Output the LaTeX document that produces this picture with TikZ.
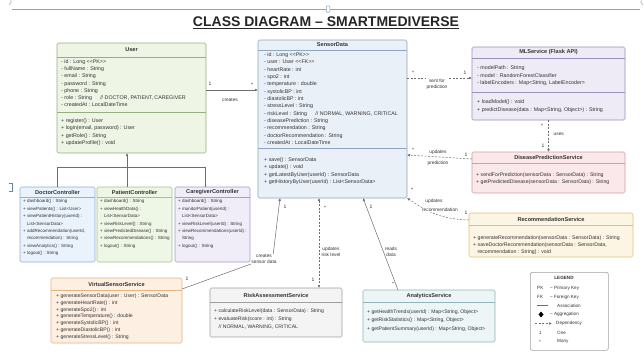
\documentclass[tikz,border=0pt]{standalone}
\usepackage{fontspec}
\setmainfont{Liberation Sans}
\usetikzlibrary{arrows.meta,calc}
\definecolor{txt}{HTML}{333333}
\definecolor{lnc}{HTML}{6E6E6E}
\definecolor{ufill}{HTML}{EEF5E5}\definecolor{udraw}{HTML}{93B07E}
\definecolor{sfill}{HTML}{EAF0F7}\definecolor{sdraw}{HTML}{8FA6C0}
\definecolor{mfill}{HTML}{EEEBF6}\definecolor{mdraw}{HTML}{9A92B8}
\definecolor{pfill}{HTML}{FBE8EA}\definecolor{pdraw}{HTML}{D99AA2}
\definecolor{rfill}{HTML}{FDF5E3}\definecolor{rdraw}{HTML}{E2C07C}
\definecolor{dfill}{HTML}{EAF2FC}\definecolor{ddraw}{HTML}{8FB0D8}
\definecolor{gfill}{HTML}{EEF6E6}\definecolor{gdraw}{HTML}{A3C48A}
\definecolor{cfill}{HTML}{F0ECF8}\definecolor{cdraw}{HTML}{A99AC8}
\definecolor{vfill}{HTML}{FDF0E2}\definecolor{vdraw}{HTML}{E6B27E}
\definecolor{kfill}{HTML}{F4F4F4}\definecolor{kdraw}{HTML}{A0A0A0}
\definecolor{afill}{HTML}{EDF5F6}\definecolor{adraw}{HTML}{8FB5BB}
\definecolor{selc}{HTML}{8FA3BC}
\newcommand\mfont{\fontsize{5.3}{7.3}\selectfont}
\newcommand\PK{<{}<PK>{}>}
\newcommand\FK{<{}<FK>{}>}
\newcommand\umlclass[9]{%
  \node[classbox, draw=#8, fill=#7, minimum width={(#4-#2)*1pt}, minimum height={(#5-#3)*1pt}, anchor=north west] (#1) at (#2,#3) {};
  \draw[#8, line width=0.5pt] (#2,#6) -- (#4,#6);
  \node[classtitle] (#1-title) at ({(#2+#4)/2},{(#3+#6)/2}) {#9};
}
\tikzset{
  classbox/.style={rounded corners=1.5pt, line width=0.6pt, inner sep=0pt, outer sep=0pt},
  classtitle/.style={font=\fontsize{5.6}{7}\selectfont\bfseries, text=txt, inner sep=0pt},
  members/.style={font=\mfont, text=txt, align=left, anchor=north west, inner sep=0pt},
  ctrlmembers/.style={font=\fontsize{4.5}{7.4}\selectfont, text=txt, align=left, anchor=north west, inner sep=0pt},
  assoc/.style={draw=lnc, line width=0.5pt},
  dep/.style={draw=lnc, line width=0.5pt, dash pattern=on 2pt off 1.5pt},
  tip/.style={-{Latex[length=3pt,width=2.6pt]}},
  mult/.style={font=\fontsize{5}{6}\selectfont, text=txt, inner sep=0.5pt},
  lbl/.style={font=\fontsize{4.8}{5.6}\selectfont, text=txt, align=center, inner sep=0.5pt},
  lgt/.style={font=\fontsize{4.6}{5.5}\selectfont, text=txt, anchor=west, inner sep=0pt},
}
\begin{document}
\begin{tikzpicture}[x=1pt,y=-1pt]
\useasboundingbox (0,0) rectangle (644,356);
\fill[white] (0,0) rectangle (644,356);
% selection artefacts
\draw[selc, line width=0.6pt] (12,9) -- (640,9);
\node[draw=selc, fill=white, rounded corners=1pt, minimum width=3.5pt, minimum height=6.5pt, inner sep=0pt, line width=0.5pt] (handle) at (328,9) {};
\draw[selc, line width=0.5pt] (9,5) arc[start angle=60, end angle=-60, radius=4.5];
\draw[selc, line width=0.5pt] (643,5) arc[start angle=120, end angle=240, radius=4.5];
\draw[selc!80!black, line width=0.6pt] (9,183) -- (12,183) -- (12,191) -- (9,191);
% title
\node[font=\fontsize{14}{16}\selectfont\bfseries, text=black!85] (title) at (326,23) {\underline{CLASS DIAGRAM \textendash{} SMARTMEDIVERSE}};

% ---------- classes ----------
\umlclass{user}{57}{43}{206}{153}{57}{ufill}{udraw}{User}
\draw[udraw, line width=0.5pt] (57,112) -- (206,112);
\node[members, font=\fontsize{5.3}{7.2}\selectfont] (user-attr) at (61,59.5) {- id : Long \PK\\- fullName : String\\- email : String\\- password : String\\- phone : String\\- role : String \quad\ // DOCTOR, PATIENT, CAREGIVER\\- createdAt : LocalDateTime};
\node[members, font=\fontsize{5.3}{7.3}\selectfont] (user-meth) at (61,118.5) {+ register() : User\\+ login(email, password) : User\\+ getRole() : String\\+ updateProfile() : void};

\umlclass{sd}{258}{40}{407}{198}{50}{sfill}{sdraw}{SensorData}
\draw[sdraw, line width=0.5pt] (258,148) -- (407,148);
\node[members, font=\fontsize{5.3}{7.33}\selectfont] (sd-attr) at (264,52.5) {- id : Long \PK\\- user : User \FK\\- heartRate : int\\- spo2 : int\\- temperature : double\\- systolicBP : int\\- diastolicBP : int\\- stressLevel : String\\- riskLevel : String \quad\ // NORMAL, WARNING, CRITICAL\\- diseasePrediction : String\\- recommendation : String\\- doctorRecommendation : String\\- createdAt : LocalDateTime};
\node[members] (sd-meth) at (264,157.5) {+ save() : SensorData\\+ update() : void\\+ getLatestByUser(userId) : SensorData\\+ getHistoryByUser(userId) : List<SensorData>};

\umlclass{ml}{472}{47}{625}{120}{58}{mfill}{mdraw}{MLService (Flask API)}
\draw[mdraw, line width=0.5pt] (472,92) -- (625,92);
\node[members, font=\fontsize{5.3}{7.5}\selectfont] (ml-attr) at (477,65.5) {- modelPath : String\\- model : RandomForestClassifier\\- labelEncoders : Map<String, LabelEncoder>};
\node[members, font=\fontsize{5.3}{8}\selectfont] (ml-meth) at (477,99.5) {+ loadModel() : void\\+ predictDisease(data : Map<String, Object>) : String};

\umlclass{dps}{472}{152}{625}{193}{163}{pfill}{pdraw}{DiseasePredictionService}
\node[members, font=\fontsize{5.2}{7.5}\selectfont] (dps-meth) at (476,172.5) {+ sendForPrediction(sensorData : SensorData) : String\\+ getPredictedDisease(sensorData : SensorData) : String};

\umlclass{rec}{469}{213}{633}{257}{225}{rfill}{rdraw}{RecommendationService}
\node[members, font=\fontsize{5.2}{7}\selectfont] (rec-meth) at (473,235.5) {+ generateRecommendation(sensorData : SensorData) : String\\+ saveDoctorRecommendation(sensorData : SensorData,\\\phantom{+ }recommendation : String) : void};

\umlclass{doc}{20}{187}{95}{262}{197}{dfill}{ddraw}{DoctorController}
\node[ctrlmembers] (doc-meth) at (23,199.5) {+ dashboard() : String\\+ viewPatients() : List<User>\\+ viewPatientHistory(userId) :\\\phantom{+ }List<SensorData>\\+ addRecommendation(userId,\\\phantom{+ }recommendation) : String\\+ viewAnalytics() : String\\+ logout() : String};

\umlclass{pat}{97}{187}{172}{262}{197}{gfill}{gdraw}{PatientController}
\node[ctrlmembers] (pat-meth) at (100,199.5) {+ dashboard() : String\\+ viewHealthData() :\\\phantom{+ }List<SensorData>\\+ viewRiskLevel() : String\\+ viewPredictedDisease() : String\\+ viewRecommendations() : String\\+ logout() : String};

\umlclass{care}{175}{187}{250}{262}{197}{cfill}{cdraw}{CaregiverController}
\node[ctrlmembers] (care-meth) at (178,199.5) {+ dashboard() : String\\+ monitorPatient(userId) :\\\phantom{+ }List<SensorData>\\+ viewRiskLevel(userId) : String\\+ viewRecommendations(userId) :\\\phantom{+ }String\\+ logout() : String};

\umlclass{vss}{51}{278}{182}{343}{290}{vfill}{vdraw}{VirtualSensorService}
\node[members, font=\fontsize{5.1}{6.8}\selectfont] (vss-meth) at (56,293.5) {+ generateSensorData(user : User) : SensorData\\+ generateHeartRate() : int\\+ generateSpo2() : int\\+ generateTemperature() : double\\+ generateSystolicBP() : int\\+ generateDiastolicBP() : int\\+ generateStressLevel() : String};

\umlclass{risk}{210}{288}{342}{337}{302}{kfill}{kdraw}{RiskAssessmentService}
\node[members, font=\fontsize{5.1}{8}\selectfont] (risk-meth) at (214,308.5) {+ calculateRiskLevel(data : SensorData) : String\\+ evaluateRisk(score : int) : String\\\phantom{+ }// NORMAL, WARNING, CRITICAL};

\umlclass{ana}{363}{290}{495}{342}{302}{afill}{adraw}{AnalyticsService}
\node[members, font=\fontsize{5.1}{8.5}\selectfont] (ana-meth) at (367,309.5) {+ getHealthTrends(userId) : Map<String, Object>\\+ getRiskStatistics() : Map<String, Object>\\+ getPatientSummary(userId) : Map<String, Object>};

% ---------- legend ----------
\node[draw=kdraw, fill=white, rounded corners=2pt, line width=0.6pt, minimum width=78pt, minimum height=78pt, anchor=north west, inner sep=0pt] (legend) at (530,272) {};
\node[font=\fontsize{4.6}{5.5}\selectfont\bfseries, text=txt, inner sep=0pt] (lg-title) at (564,278) {LEGEND};
\node[lgt] (lg-pk) at (537,288) {PK};
\node[lgt] (lg-pkt) at (550,288) {\textendash{} Primary Key};
\node[lgt] (lg-fk) at (537,297) {FK};
\node[lgt] (lg-fkt) at (550,297) {\textendash{} Foreign Key};
\coordinate (lg-a1) at (537,305.5); \coordinate (lg-a2) at (548,305.5);
\draw[assoc] (lg-a1) -- (lg-a2);
\node[lgt] (lg-at) at (557,305.5) {Association};
\fill[black] (541,311.5) -- (543.5,314.5) -- (541,317.5) -- (538.5,314.5) -- cycle;
\node[lgt] (lg-gt) at (550,314.5) {\textendash{} Aggregation};
\coordinate (lg-d1) at (535,323.5); \coordinate (lg-d2) at (552,323.5);
\draw[dep, tip] (lg-d1) -- (lg-d2);
\node[lgt] (lg-dt) at (556,323.5) {Dependency};
\node[lgt] (lg-one) at (539,332.5) {1};
\node[lgt] (lg-onet) at (557,332.5) {One};
\node[lgt] (lg-many) at (539,341.5) {*};
\node[lgt] (lg-manyt) at (557,341.5) {Many};

% ---------- connectors ----------
% controllers -> User
\coordinate (junc) at (127,167);
\draw[assoc, tip] (junc) -- (user.south -| junc);
\draw[assoc] (doc.north) |- (junc);
\draw[assoc] (care.north -| 205,0) |- (junc);
\draw[assoc] (pat.north -| junc) -- (junc);

% User -> SensorData
\draw[assoc, tip] (user.east |- 0,90) -- (sd.west |- 0,90);
\node[mult] (m1) at (210,84) {1};
\node[mult] (m2) at (252,85) {*};
\node[lbl] (l-creates) at (230,100) {creates};

% SensorData -> MLService
\draw[dep, tip] (sd.east |- 0,78) -- (ml.west |- 0,78);
\node[mult] (m3) at (413,73) {*};
\node[mult] (m4) at (465,73) {1};
\node[lbl, fill=white] (l-sent) at (437,84) {sent for\\prediction};

% ML -> DPS
\draw[dep, tip] (ml.south) -- (dps.north);
\node[mult] (m5) at (542,126) {*};
\node[mult] (m6) at (543,146) {1};
\node[lbl, anchor=west] (l-uses) at (553,134) {uses};

% DPS -> SensorData
\draw[dep, tip] (dps.west |- 0,159) -- (sd.east |- 0,155);
\node[mult] (m7) at (413,150) {*};
\node[mult] (m8) at (466,155) {1};
\node[lbl] (l-upd1) at (438,152) {updates};
\node[lbl] (l-upd2) at (438,163) {prediction};

% Recommendation -> SensorData
\draw[dep, tip] (rec.west |- 0,220) .. controls (440,219) and (428,212) .. (sd.south east);
\node[mult] (m9) at (412,190) {*};
\node[mult] (m10) at (466,213) {1};
\node[lbl] (l-upd3) at (434,201) {updates};
\node[lbl, fill=white] (l-upd4) at (440,210) {recommendation};

% VirtualSensorService -> SensorData (label sits on the bend)
\node[lbl] (l-csd) at (264,259) {creates\\sensor data};
\draw[assoc] (vss.east |- 0,289) -- (l-csd.south west);
\draw[assoc, tip] (l-csd.north east) ++(-4,0) -- (sd.south -| 280,0);
\node[mult] (m11) at (187,279) {1};
\node[mult] (m12) at (285,207) {1};

% SensorData <-> RiskAssessmentService
\draw[dep, {Latex[length=3pt,width=2.6pt]}-{Latex[length=3pt,width=2.6pt]}] (sd.south -| 319,0) -- (risk.north -| 319,0);
\node[mult] (m13) at (325,208) {*};
\node[mult] (m14) at (313,280) {1};
\node[lbl] (l-risk) at (331,252) {updates\\risk level};

% AnalyticsService -> SensorData
\draw[assoc, tip] (ana.north -| 398,0) -- (sd.south -| 363,0);
\node[mult] (m15) at (371,207) {1};
\node[mult] (m16) at (393,284) {*};
\node[lbl] (l-reads) at (391,252) {reads\\data};
\end{tikzpicture}
\end{document}
